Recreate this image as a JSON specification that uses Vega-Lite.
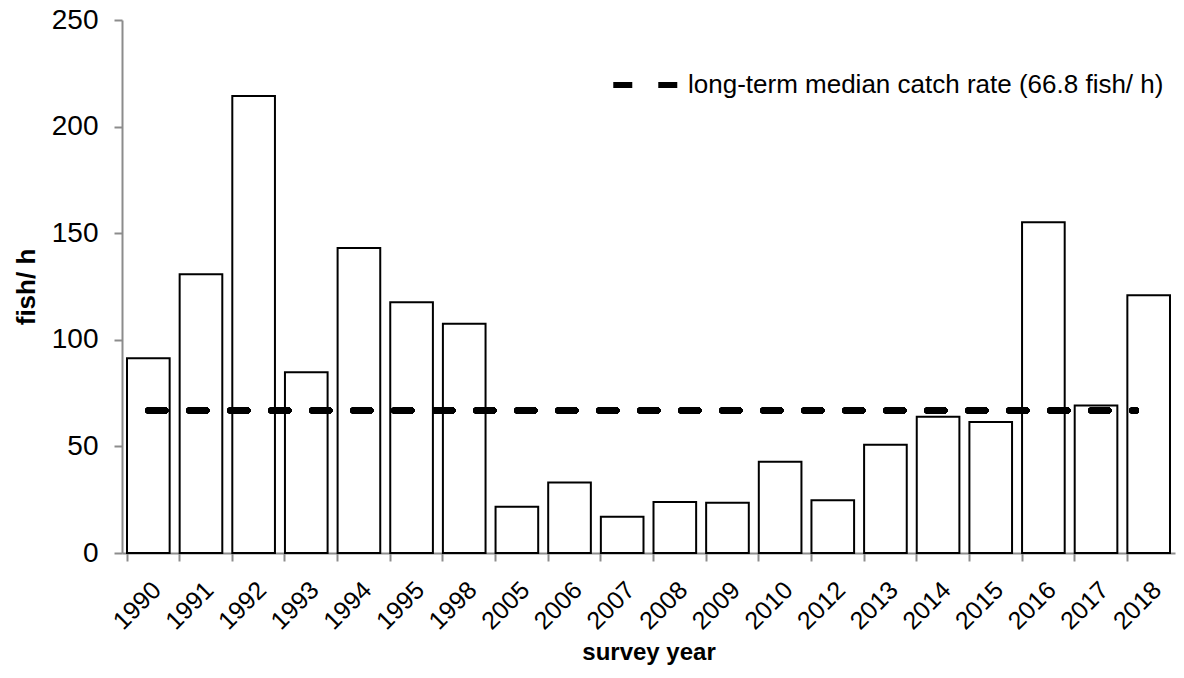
{
  "$schema": "https://vega.github.io/schema/vega-lite/v6.json",
  "width": 1053,
  "height": 533,
  "autosize": {"type": "none"},
  "padding": {"left": 122, "top": 20, "right": 9, "bottom": 125},
  "config": {
    "font": "Liberation Sans",
    "view": {"stroke": null},
    "axis": {"grid": false, "domainColor": "#8c8c8c", "tickColor": "#8c8c8c", "labelColor": "#000000", "titleColor": "#000000", "labelFont": "Liberation Sans", "titleFont": "Liberation Sans", "domainWidth": 2, "tickWidth": 2}
  },
  "data": {
    "values": [
      {"year": "1990", "rate": 91.4},
      {"year": "1991", "rate": 130.7},
      {"year": "1992", "rate": 214.3},
      {"year": "1993", "rate": 84.8},
      {"year": "1994", "rate": 143.1},
      {"year": "1995", "rate": 117.6},
      {"year": "1998", "rate": 107.5},
      {"year": "2005", "rate": 21.7},
      {"year": "2006", "rate": 33.1},
      {"year": "2007", "rate": 17.0},
      {"year": "2008", "rate": 23.9},
      {"year": "2009", "rate": 23.6},
      {"year": "2010", "rate": 42.8},
      {"year": "2012", "rate": 24.7},
      {"year": "2013", "rate": 50.8},
      {"year": "2014", "rate": 63.9},
      {"year": "2015", "rate": 61.4},
      {"year": "2016", "rate": 155.1},
      {"year": "2017", "rate": 69.2},
      {"year": "2018", "rate": 120.9}
    ]
  },
  "layer": [
    {
      "mark": {"type": "bar", "fill": "white", "stroke": "black", "strokeWidth": 2},
      "encoding": {
        "x": {
          "field": "year", "type": "nominal", "sort": null,
          "scale": {"paddingInner": 0.19, "paddingOuter": 0.095},
          "axis": {"title": "survey year", "labelAngle": -45, "labelFontSize": 25, "titleFontSize": 24, "titleFontWeight": "bold", "bandPosition": 0, "tickSize": 8, "labelPadding": 16, "titlePadding": 6}
        },
        "y": {
          "field": "rate", "type": "quantitative",
          "scale": {"domain": [0, 250], "nice": false},
          "axis": {"values": [0, 50, 100, 150, 200, 250], "title": "fish/ h", "labelFontSize": 28, "titleFontSize": 26, "titleFontWeight": "bold", "tickSize": 8, "labelPadding": 16, "titlePadding": 12}
        }
      }
    },
    {
      "mark": {"type": "rule", "strokeDash": [17, 24], "strokeWidth": 6, "strokeCap": "round"},
      "encoding": {
        "x": {"datum": "1990", "bandPosition": 0.5},
        "x2": {"datum": "2018", "bandPosition": 0.2},
        "y": {"datum": 66.8},
        "stroke": {
          "datum": "long-term median catch rate (66.8 fish/ h)",
          "scale": {"range": ["black"]},
          "legend": {"title": null, "orient": "none", "legendX": 488, "legendY": 17, "symbolType": "stroke", "symbolSize": 8000, "symbolStrokeWidth": 6, "symbolDash": [19, 26], "symbolStrokeColor": "black", "labelFontSize": 26, "labelFont": "Liberation Sans", "labelColor": "#000000", "labelOffset": -18, "labelLimit": 900}
        }
      }
    }
  ]
}
